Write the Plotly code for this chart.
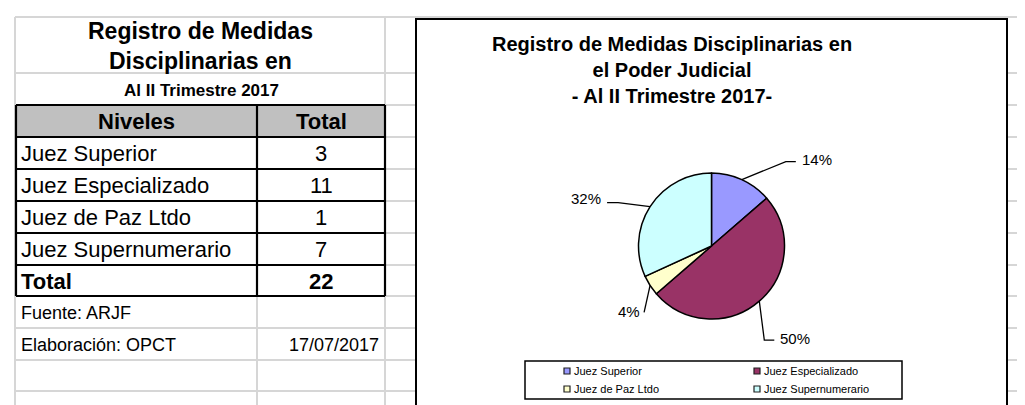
import math
import plotly.graph_objects as go

W, H = 1025, 405

# ---------------- data ----------------
niveles = ["Juez Superior", "Juez Especializado", "Juez de Paz Ltdo", "Juez Supernumerario"]
totales = [3, 11, 1, 7]
total_general = 22
pct_labels = ["14%", "50%", "4%", "32%"]
colores = ["#9999FF", "#993366", "#FFFFCC", "#CCFFFF"]

tabla_titulo = ["Registro de Medidas", "Disciplinarias en"]
tabla_subtitulo = "Al II Trimestre 2017"
encabezados = ["Niveles", "Total"]
fila_total = "Total"
fuente = "Fuente: ARJF"
elaboracion = "Elaboración: OPCT"
fecha = "17/07/2017"
grafico_titulo = ["Registro de Medidas Disciplinarias en", "el Poder Judicial", "- Al II Trimestre 2017-"]

# ---------------- styling / layout ----------------
FONT = "Liberation Sans, Arial, sans-serif"
GRID = "#D6D6D6"
BORDER = "#000000"


def px(x):
    return x / W


def py(y):
    return 1 - y / H


shapes = []
annotations = []


def line(x0, y0, x1, y1, color, width, layer="below"):
    shapes.append(dict(type="line", xref="paper", yref="paper",
                       x0=px(x0), y0=py(y0), x1=px(x1), y1=py(y1),
                       line=dict(color=color, width=width), layer=layer))


def rect(x0, y0, x1, y1, fill, color, width, layer="below"):
    shapes.append(dict(type="rect", xref="paper", yref="paper",
                       x0=px(x0), y0=py(y0), x1=px(x1), y1=py(y1),
                       fillcolor=fill, line=dict(color=color, width=width), layer=layer))


def path(points, color, width, layer="above"):
    d = "M " + " L ".join(f"{px(x)},{py(y)}" for x, y in points)
    shapes.append(dict(type="path", xref="paper", yref="paper", path=d,
                       line=dict(color=color, width=width), layer=layer))


def text(x, y, s, size, bold=False, xanchor="center", color="black"):
    annotations.append(dict(x=px(x), y=py(y), xref="paper", yref="paper",
                            text=(f"<b>{s}</b>" if bold else s), showarrow=False,
                            xanchor=xanchor, yanchor="middle",
                            font=dict(family=FONT, size=size, color=color)))


# spreadsheet grid
row_lines = [9, 65, 97, 129, 161, 193, 225, 257, 288, 320, 352, 383]
for y in row_lines:
    line(7, y, W, y, GRID, 2)
line(7, 9, 7, H, GRID, 2)
line(249, 288, 249, H, GRID, 2)
line(377, 9, 377, H, GRID, 2)
for x in [472, 615, 756, 897]:
    line(x, 9, x, H, GRID, 2)

# table
table_rows = [97, 129, 161, 193, 225, 257, 288]
rect(8, 97, 377, 129, "#C0C0C0", "rgba(0,0,0,0)", 0)
for y in table_rows:
    line(8, y, 377, y, BORDER, 2.2)
for x in [8, 249, 377]:
    line(x, 97, x, 288, BORDER, 2.2)

text(192, 23, tabla_titulo[0], 23, bold=True)
text(192, 53, tabla_titulo[1], 23, bold=True)
text(193, 82, tabla_subtitulo, 17, bold=True)
text(128.5, 113, encabezados[0], 22, bold=True)
text(313, 113, encabezados[1], 22, bold=True)
row_centers = [145, 177, 209, 241]
for nivel, val, yc in zip(niveles, totales, row_centers):
    text(11, yc, nivel, 22, xanchor="left")
    text(313, yc, str(val), 22)
text(11, 273, fila_total, 22, bold=True, xanchor="left")
text(313, 273, str(total_general), 22, bold=True)
text(11, 305, fuente, 18, xanchor="left")
text(11, 337, elaboracion, 18, xanchor="left")
text(373, 337, fecha, 18, xanchor="right")

# chart area
rect(408, 11, 999, 399, "white", BORDER, 2)
annotations.append(dict(x=px(664), y=py(62), xref="paper", yref="paper",
                        text="<b>" + "<br>".join(grafico_titulo) + "</b>",
                        showarrow=False, xanchor="center", yanchor="middle",
                        font=dict(family=FONT, size=20, color="black")))

# pie geometry
CX, CY, R = 703.5, 238, 73
pie = go.Pie(values=totales, labels=niveles, sort=False, direction="clockwise", rotation=0,
             marker=dict(colors=colores, line=dict(color="black", width=1.5)),
             textinfo="none", hoverinfo="label+value+percent", showlegend=False,
             domain=dict(x=[px(CX - R), px(CX + R)], y=[py(CY + R), py(CY - R)]))

# data labels with leader lines (offsets relative to slice-midpoint edge)
label_layout = [
    dict(elbow=(44, -18), end=(54, -18), text=(58, -20), anchor="left"),
    dict(elbow=(5, 39), end=(15, 39), text=(19, 37), anchor="left"),
    dict(elbow=(-6, 27), end=(-6, 27), text=(-8, 26), anchor="right"),
    dict(elbow=(-32, -4), end=(-43, -4), text=(-47, -8), anchor="right"),
]
tot = sum(totales)
cum = 0
for val, lab, lay in zip(totales, pct_labels, label_layout):
    mid = (cum + val / 2) / tot * 2 * math.pi
    cum += val
    ex, ey = CX + R * math.sin(mid), CY - R * math.cos(mid)
    pts = [(ex, ey), (ex + lay["elbow"][0], ey + lay["elbow"][1]), (ex + lay["end"][0], ey + lay["end"][1])]
    path(pts, "black", 1.3)
    text(ex + lay["text"][0], ey + lay["text"][1], lab, 15, xanchor=lay["anchor"])

# legend
rect(517, 353, 894, 391, "white", BORDER, 1.5, layer="above")
legend_pos = [(556, 363), (746, 363), (556, 381), (746, 381)]
for nivel, col, (lx, ly) in zip(niveles, colores, legend_pos):
    rect(lx, ly - 3, lx + 6, ly + 3, col, "#202020", 1.2, layer="above")
    text(lx + 8, ly, nivel, 11, xanchor="left")

fig = go.Figure(pie)
fig.update_layout(width=W, height=H, margin=dict(l=0, r=0, t=0, b=0),
                  paper_bgcolor="white", plot_bgcolor="white",
                  shapes=shapes, annotations=annotations)
fig.write_html("out.html")
